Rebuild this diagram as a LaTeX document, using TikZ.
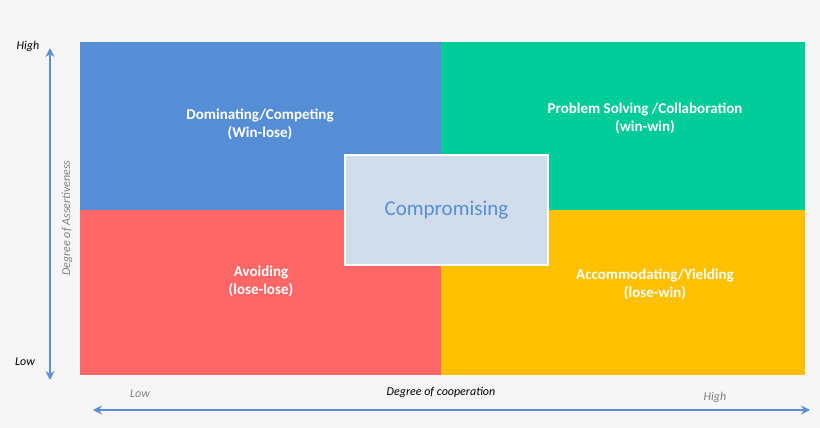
\documentclass[tikz,border=0pt]{standalone}
\usepackage{fontspec}
\setmainfont{Carlito}
\usetikzlibrary{arrows.meta}
\definecolor{qblue}{HTML}{558ED5}
\definecolor{qgreen}{HTML}{00CC99}
\definecolor{qred}{HTML}{FF6666}
\definecolor{qyellow}{HTML}{FFC000}
\definecolor{qcomp}{HTML}{D2DDEC}
\definecolor{axis}{HTML}{5B8FD6}
\definecolor{bg}{HTML}{F6F6F6}
\tikzset{
 quad/.style={draw=white,line width=0.8pt},
 lab/.style={text=white,font=\fontsize{15}{18}\selectfont\bfseries,align=center},
 ax/.style={axis,line width=2.5pt,{Stealth[length=9pt,width=9pt]}-{Stealth[length=9pt,width=9pt]}},
 small/.style={font=\fontsize{12}{14}\selectfont\itshape}
}
\begin{document}
\begin{tikzpicture}[x=1pt,y=-1pt]
\fill[bg] (0,0) rectangle (820,428);
\useasboundingbox (0,0) rectangle (820,428);
\fill[qblue] (80,42) rectangle (441,210);
\fill[qgreen] (441,42) rectangle (805,210);
\fill[qred] (80,210) rectangle (441,375);
\fill[qyellow] (441,210) rectangle (805,375);
\node[lab] (dom) at (260,124) {Dominating/Competing\\(Win-lose)};
\node[lab] (ps) at (645,118) {Problem Solving /Collaboration\\(win-win)};
\node[lab] (av) at (261,281) {Avoiding\\(lose-lose)};
\node[lab] (acc) at (655,284) {Accommodating/Yielding\\(lose-win)};
\node[draw=white,line width=1.5pt,fill=qcomp,minimum width=203pt,minimum height=110pt,text=qblue,font=\fontsize{21}{24}\selectfont] (comp) at (446.5,210) {Compromising};
\coordinate (vt) at (50,48);
\coordinate (vb) at (50,380);
\draw[ax] (vt) -- (vb);
\coordinate (hl) at (93,410);
\coordinate (hr) at (810,410);
\draw[ax] (hl) -- (hr);
\node[small] (hi) at (28,46) {High};
\node[small] (lo) at (25,362) {Low};
\node[small,text=gray,rotate=90] (da) at (67,218) {Degree of Assertiveness};
\node[small] (dc) at (441,392) {Degree of cooperation};
\node[small,text=gray] (xl) at (140,394) {Low};
\node[small,text=gray] (xh) at (715,397) {High};
\end{tikzpicture}
\end{document}
